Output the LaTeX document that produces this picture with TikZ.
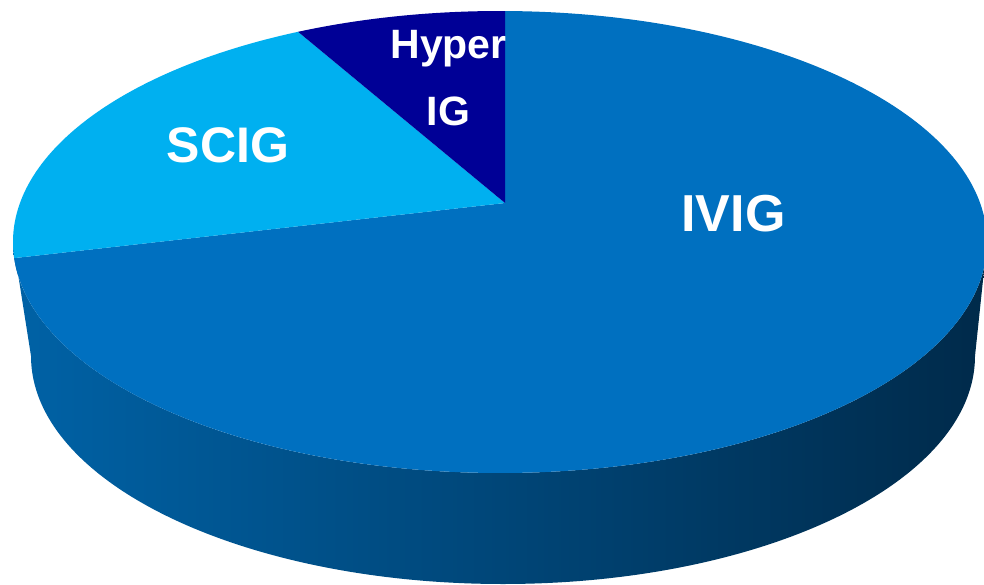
\documentclass[tikz,border=0pt]{standalone}
\usepackage{tikz}
\usepackage{xcolor}
\usepackage{fontspec}
\usetikzlibrary{calc}
\setmainfont{Liberation Sans}

\definecolor{ivig}{RGB}{0,112,192}
\definecolor{scig}{RGB}{0,176,240}
\definecolor{hyper}{RGB}{0,0,150}
\definecolor{rimleft}{RGB}{0,98,166}
\definecolor{rimright}{RGB}{0,42,74}

\begin{document}
\begin{tikzpicture}[x=1pt,y=1pt,
	toprim/.style={x radius=487pt, y radius=231pt},
	botrim/.style={x radius=472pt, y radius=228pt},
	slicetext/.style={text=white, inner sep=0pt}]
	\useasboundingbox (0,0) rectangle (984,584);
	\coordinate (top) at (500,342);
	\coordinate (bot) at (503,228);
	\coordinate (mid) at (505,381);

	% side of the disc
	\shade[left color=rimleft, right color=rimright]
		($(top)+(180:487pt and 231pt)$) arc[toprim, start angle=180, end angle=360]
		-- ($(bot)+(0:472pt and 228pt)$) arc[botrim, start angle=0, end angle=-180]
		-- cycle;

	% slices on top
	\fill[ivig] (mid) -- ($(top)+(89.4:487pt and 231pt)$)
		arc[toprim, start angle=89.4, end angle=-176] -- cycle;
	\fill[scig] (mid) -- ($(top)+(184:487pt and 231pt)$)
		arc[toprim, start angle=184, end angle=114.5] -- cycle;
	\fill[hyper] (mid) -- ($(top)+(114.5:487pt and 231pt)$)
		arc[toprim, start angle=114.5, end angle=89.4] -- cycle;

	\node[slicetext, font=\fontsize{52}{60}\selectfont\bfseries] (ivig) at (733.5,370.5) {IVIG};
	\node[slicetext, font=\fontsize{50}{60}\selectfont\bfseries] (scig) at (228,438.5) {SCIG};
	\node[slicetext, font=\fontsize{41}{67}\selectfont\bfseries, align=center, anchor=north] (hyper) at (448.5,554) {Hyper\\IG};
\end{tikzpicture}
\end{document}
